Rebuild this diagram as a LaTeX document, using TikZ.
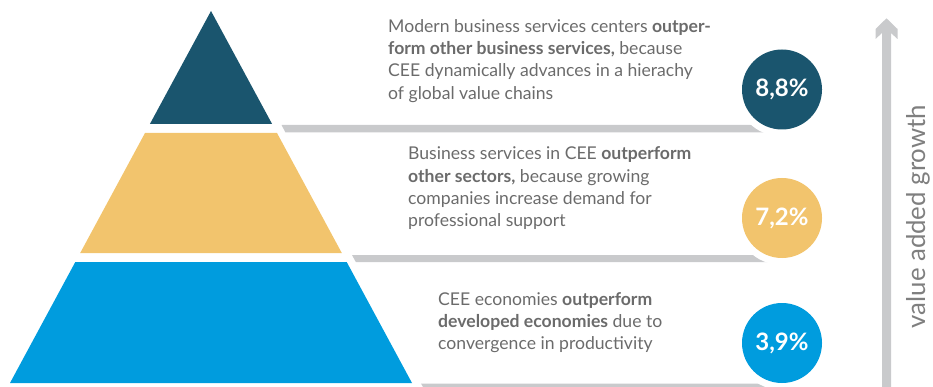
\documentclass[tikz,border=0pt]{standalone}
\usepackage{fontspec}
\setmainfont{Lato}
\definecolor{cdark}{HTML}{1A556E}
\definecolor{cyel}{HTML}{F2C46D}
\definecolor{cblue}{HTML}{009CDE}
\definecolor{cbar}{HTML}{C9CACC}
\definecolor{ctext}{HTML}{6B6B6B}
\definecolor{clabel}{HTML}{7F7F7F}
\tikzset{
  txt/.style={anchor=base west, align=left, inner sep=0pt, text=ctext,
    font=\fontsize{17.6}{22.3}\selectfont},
  circ/.style={circle, minimum size=80pt, inner sep=0pt, text=white,
    font=\fontsize{24}{24}\selectfont\bfseries,
    preaction={draw=white, line width=14pt}},
}
\begin{document}
\begin{tikzpicture}[x=1pt,y=-1pt]
\useasboundingbox (0,0) rectangle (933,387);
% pyramid
\fill[cdark] (211,11) -- (272.1,124) -- (149.9,124) -- cycle;
\fill[cyel] (145,133) -- (277,133) -- (341.8,253) -- (80.2,253) -- cycle;
\fill[cblue] (75.3,262) -- (346.7,262) -- (412,383) -- (10,383) -- cycle;
% bars
\fill[cbar] (281.5,125) -- (782,125) -- (782,132.5) -- (285.5,132.5) -- cycle;
\fill[cbar] (352,255) -- (782,255) -- (782,262) -- (355.8,262) -- cycle;
\fill[cbar] (421,383.5) -- (782,383.5) -- (782,388) -- (423.5,388) -- cycle;
% circles
\node[circ, fill=cdark] (c1) at (782,89.5) {8,8\%};
\node[circ, fill=cyel] (c2) at (782,218) {7,2\%};
\node[circ, fill=cblue] (c3) at (782,343) {3,9\%};
% texts (anchored at the baseline of the last line)
\node[txt] (t1) at (388,99.2) {Modern business services centers \textbf{outper-}\\\textbf{form other business services,} because\\CEE dynamically advances in a hierachy\\of global value chains};
\node[txt] (t2) at (408,226.9) {Business services in CEE \textbf{outperform}\\\textbf{other sectors,} because growing\\companies increase demand for\\professional support};
\node[txt] (t3) at (438,349.6) {CEE economies \textbf{outperform}\\\textbf{developed economies} due to\\convergence in productivity};
% axis arrow
\coordinate (atip) at (886.5,18.3);
\fill[cbar, shift={(atip)}] (0,0) -- (11,10.7) -- (11,20.7) -- (4.5,14.7) -- (4.5,370) -- (-4.5,370) -- (-4.5,14.7) -- (-11,20.7) -- (-11,10.7) -- cycle;
\node[rotate=90, inner sep=0pt, text=clabel, font=\fontsize{25.8}{26}\selectfont] (lab) at (918,216.5) {value added growth};
\end{tikzpicture}
\end{document}
